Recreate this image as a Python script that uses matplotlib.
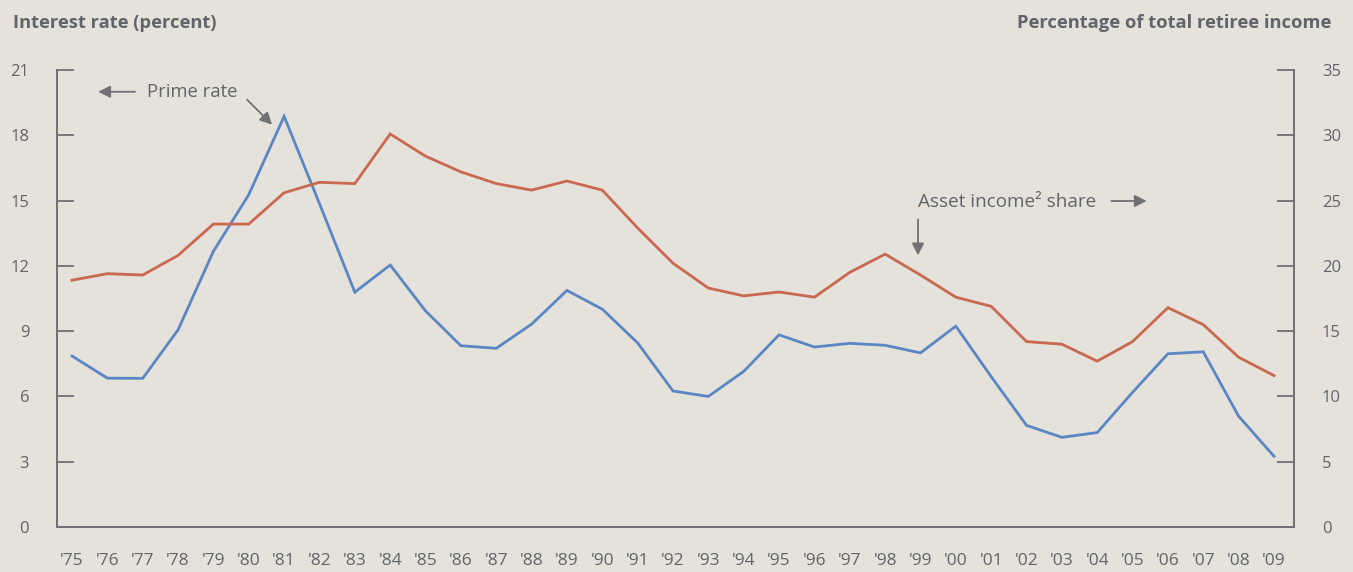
import matplotlib
matplotlib.use("Agg")
import matplotlib.pyplot as plt

years = list(range(1975, 2010))
year_labels = ["'" + str(y)[2:] for y in years]

prime_rate = [7.86, 6.84, 6.83, 9.06, 12.67, 15.27, 18.87, 14.86, 10.79, 12.04,
              9.93, 8.33, 8.21, 9.32, 10.87, 10.01, 8.46, 6.25, 6.00, 7.15,
              8.83, 8.27, 8.44, 8.35, 8.00, 9.23, 6.91, 4.67, 4.12, 4.34,
              6.19, 7.96, 8.05, 5.09, 3.25]

asset_share = [18.9, 19.4, 19.3, 20.8, 23.2, 23.2, 25.6, 26.4, 26.3, 30.1,
               28.4, 27.2, 26.3, 25.8, 26.5, 25.8, 22.9, 20.2, 18.3, 17.7,
               18.0, 17.6, 19.5, 20.9, 19.3, 17.6, 16.9, 14.2, 14.0, 12.7,
               14.2, 16.8, 15.5, 13.0, 11.6]

left_ticks = [0, 3, 6, 9, 12, 15, 18, 21]
right_ticks = [0, 5, 10, 15, 20, 25, 30, 35]

BG = "#e4e2da"
TXT = "#60646b"
SPINE = "#6f7176"
BLUE = "#5b86c4"
RED = "#c9694f"

plt.rcParams['font.family'] = ['Open Sans', 'DejaVu Sans']

fig = plt.figure(figsize=(13.53, 5.72), dpi=100, facecolor=BG)
ax = fig.add_axes([57/1353, 45/572, (1294-57)/1353, (527-70)/572])
ax.set_facecolor(BG)
ax2 = ax.twinx()

ax.plot(years, prime_rate, color=BLUE, lw=2.0, solid_joinstyle='miter', zorder=3)
ax2.plot(years, asset_share, color=RED, lw=2.0, solid_joinstyle='miter', zorder=3)

x0 = 1975 - 15/35.35
x1 = 2009 + 20/35.35
ax.set_xlim(x0, x1)
ax.set_ylim(0, 21)
ax2.set_ylim(0, 35)

ax.set_yticks(left_ticks)
ax.set_yticklabels([str(t) for t in left_ticks])
ax2.set_yticks(right_ticks)
ax2.set_yticklabels([str(t) for t in right_ticks])
ax.set_xticks(years)
ax.set_xticklabels(year_labels)

for a in (ax, ax2):
    for s in a.spines.values():
        s.set_color(SPINE)
        s.set_linewidth(1.3)
    a.spines['top'].set_visible(False)

ax.tick_params(axis='y', direction='in', length=12, width=1.3, color=SPINE,
               labelcolor=TXT, labelsize=12, pad=20)
ax2.tick_params(axis='y', direction='in', length=12, width=1.3, color=SPINE,
                labelcolor=TXT, labelsize=12, pad=20)
for lab in ax2.get_yticklabels():
    lab.set_horizontalalignment('left')
ax.tick_params(axis='x', length=0, labelcolor=TXT, labelsize=12.5, pad=19)

fig.text(13/1353, 1 - 23/572, "Interest rate (percent)", ha='left', va='center',
         fontsize=13.2, fontweight='bold', color=TXT)
fig.text(1331/1353, 1 - 23/572, "Percentage of total retiree income", ha='right',
         va='center', fontsize=13.2, fontweight='bold', color=TXT)

arrow_kw = dict(arrowstyle='-|>', color=SPINE, lw=1.3, mutation_scale=18,
                shrinkA=0, shrinkB=0)

# Prime rate annotation
ax.text(1977.12, 20.0, "Prime rate", ha='left', va='center',
        fontsize=13.3, color=TXT)
ax.annotate("", xy=(1975.74, 20.0), xytext=(1976.78, 20.0),
            arrowprops=arrow_kw)
ax.annotate("", xy=(1980.66, 18.49), xytext=(1979.95, 19.64),
            arrowprops=arrow_kw)

# Asset income share annotation
ax.text(1998.93, 14.95, "Asset income\u00b2 share", ha='left', va='center',
        fontsize=13.6, color=TXT)
ax.annotate("", xy=(2005.4, 14.98), xytext=(2004.4, 14.98),
            arrowprops=arrow_kw)
ax.annotate("", xy=(1998.93, 12.48), xytext=(1998.93, 14.13),
            arrowprops=arrow_kw)

fig.savefig("out.png", dpi=100, facecolor=BG)
